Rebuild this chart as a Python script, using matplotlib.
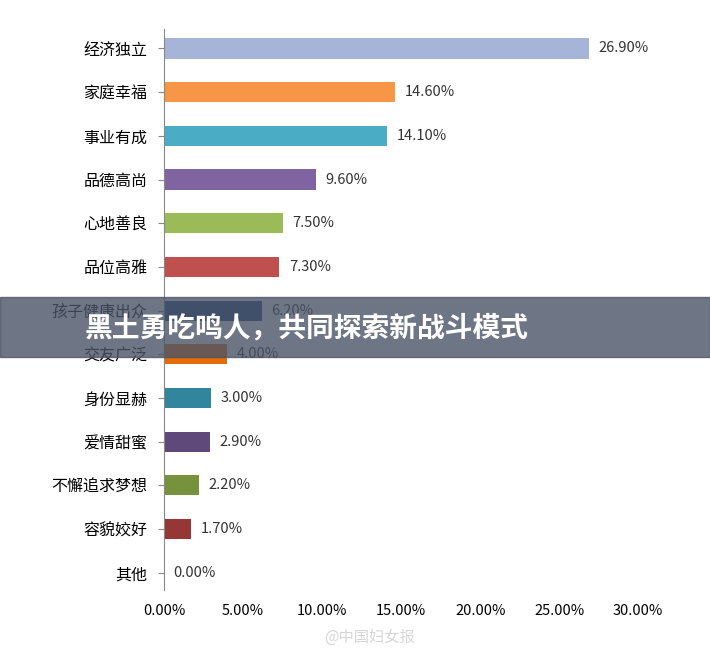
import matplotlib.pyplot as plt
import matplotlib.ticker as mtick

plt.rcParams['font.family'] = ['Noto Sans CJK SC', 'DejaVu Sans']

categories = ['经济独立', '家庭幸福', '事业有成', '品德高尚', '心地善良', '品位高雅',
              '孩子健康出众', '交友广泛', '身份显赫', '爱情甜蜜', '不懈追求梦想', '容貌姣好', '其他']
values = [26.9, 14.6, 14.1, 9.6, 7.5, 7.3, 6.2, 4.0, 3.0, 2.9, 2.2, 1.7, 0.0]
colors = ['#a6b4d8', '#f79646', '#4bacc6', '#8064a2', '#9bbb59', '#c0504d',
          '#1f497d', '#e46c0a', '#31859c', '#5f497a', '#76923c', '#953735', '#4f81bd']

fig = plt.figure(figsize=(7.1, 6.55), dpi=100)
ax = fig.add_axes([0.231, 0.099, 0.668, 0.857])
y = list(range(len(categories)))
ax.barh(y, values, color=colors, height=0.46)
for yi, v in zip(y, values):
    ax.text(v + 0.6, yi, f'{v:.2f}%', va='center', fontsize=10.5, color='#333333')
ax.set_yticks(y)
ax.set_yticklabels(categories, fontsize=11.5)
ax.set_ylim(12.4, -0.45)
ax.set_xlim(0, 30)
ax.set_xticks(range(0, 31, 5))
ax.xaxis.set_major_formatter(mtick.FuncFormatter(lambda v, p: f'{v:.2f}%'))
ax.tick_params(axis='x', labelsize=10.5, length=0, pad=10)
ax.tick_params(axis='y', length=4, direction='out', color='#888888', pad=8)
for s in ['top', 'right', 'bottom']:
    ax.spines[s].set_visible(False)
ax.spines['left'].set_color('#888888')

# overlay banner
fig.patches.append(plt.Rectangle((0, 1 - 357 / 655), 1, 60 / 655, transform=fig.transFigure,
                                 color='#4a5366', alpha=0.8, zorder=5))
fig.text(0.12, 1 - 328 / 655, '黑土勇吃鸣人，共同探索新战斗模式', ha='left', va='center',
         fontsize=20, fontweight='bold', color='white', zorder=6)
fig.text(0.52, 1 - 637 / 655, '@中国妇女报', ha='center', va='center', fontsize=11,
         color='#cccccc', alpha=0.8)

fig.savefig('out.png', dpi=100, facecolor='white')
